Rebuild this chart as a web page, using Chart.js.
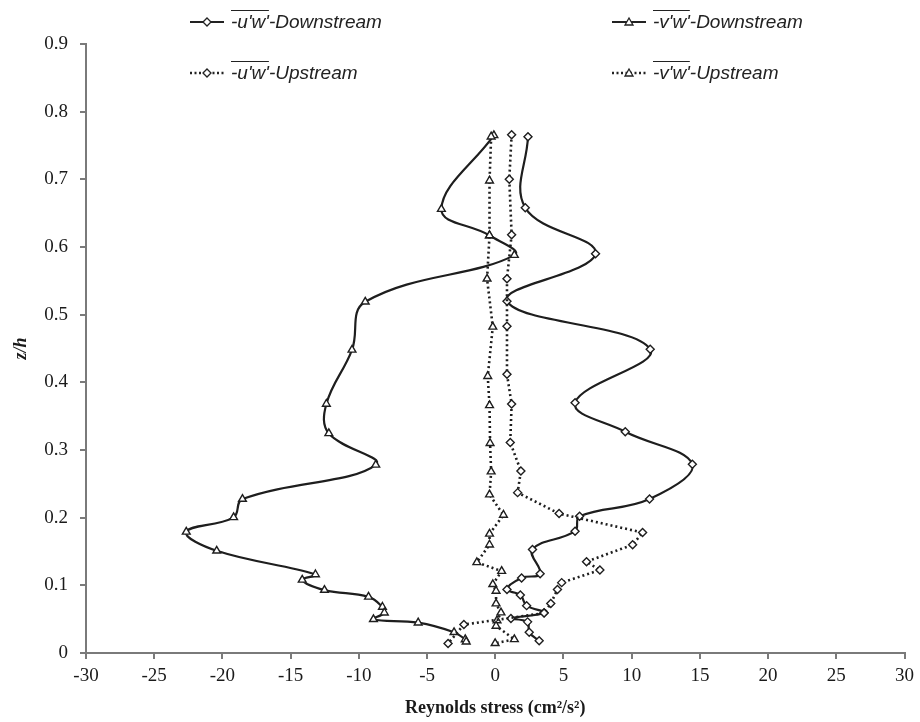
<!DOCTYPE html>
<html>
<head>
<meta charset="utf-8">
<script src="https://cdn.jsdelivr.net/npm/chart.js@4.4.1/dist/chart.umd.min.js"></script>
<style>
    html, body { margin: 0; padding: 0; background: #fff; }
    #wrap { position: relative; width: 920px; height: 722px; }
    #chart { position: absolute; left: 0; top: 0; }
    .leg { position: absolute; display: flex; align-items: center; height: 22px;
        font-family: "Liberation Sans Narrow", "Liberation Sans", Arial, sans-serif;
        font-style: italic; font-size: 19px; color: #222; white-space: nowrap; }
    .leg svg { margin-right: 7px; }
    .ov { text-decoration: overline; }
</style>
</head>
<body>
<div id="wrap">
    <canvas id="chart" width="920" height="722"></canvas>
    <div class="leg" style="left:190px; top:11px;">
        <svg width="34" height="12"><line x1="0" y1="6" x2="34" y2="6" stroke="#222" stroke-width="2"/><polygon points="17,2 21,6 17,10 13,6" fill="#fff" stroke="#222" stroke-width="1.3"/></svg>
        <span><span class="ov">-u'w'</span>-Downstream</span>
    </div>
    <div class="leg" style="left:612px; top:11px;">
        <svg width="34" height="12"><line x1="0" y1="6" x2="34" y2="6" stroke="#222" stroke-width="2"/><polygon points="17,2 21,9 13,9" fill="#fff" stroke="#222" stroke-width="1.3"/></svg>
        <span><span class="ov">-v'w'</span>-Downstream</span>
    </div>
    <div class="leg" style="left:190px; top:62px;">
        <svg width="34" height="12"><line x1="0" y1="6" x2="34" y2="6" stroke="#222" stroke-width="2.5" stroke-dasharray="2,2.5"/><polygon points="17,2 21,6 17,10 13,6" fill="#fff" stroke="#222" stroke-width="1.3"/></svg>
        <span><span class="ov">-u'w'</span>-Upstream</span>
    </div>
    <div class="leg" style="left:612px; top:62px;">
        <svg width="34" height="12"><line x1="0" y1="6" x2="34" y2="6" stroke="#222" stroke-width="2.5" stroke-dasharray="2,2.5"/><polygon points="17,2 21,9 13,9" fill="#fff" stroke="#222" stroke-width="1.3"/></svg>
        <span><span class="ov">-v'w'</span>-Upstream</span>
    </div>
</div>
<script>
// Reynolds stress (cm2/s2) against relative depth z/h
const uwDownX = [2.4, 2.2, 7.35, 0.86, 11.36, 5.85, 9.53, 14.45, 11.31, 6.18, 5.85, 2.73, 3.29, 1.93, 0.86, 1.84, 2.3, 3.58, 1.15, 2.37, 2.49, 3.22];
const uwDownZ = [0.763, 0.658, 0.590, 0.520, 0.449, 0.370, 0.327, 0.279, 0.2275, 0.202, 0.180, 0.153, 0.117, 0.111, 0.094, 0.0857, 0.070, 0.0596, 0.051, 0.046, 0.0305, 0.018];

const vwDownX = [-0.1, -3.95, -0.42, 1.4, -9.53, -10.5, -12.38, -12.2, -8.76, -18.53, -19.18, -22.65, -20.42, -13.18, -14.15, -12.52, -9.29, -8.27, -8.13, -8.93, -5.65, -3.02, -2.2, -2.13];
const vwDownZ = [0.765, 0.656, 0.617, 0.588, 0.519, 0.448, 0.368, 0.3245, 0.278, 0.2275, 0.2004, 0.179, 0.151, 0.116, 0.108, 0.093, 0.083, 0.068, 0.0595, 0.0498, 0.0448, 0.0306, 0.020, 0.0167];

const uwUpX = [1.2, 1.03, 1.2, 0.86, 0.86, 0.86, 1.2, 1.1, 1.88, 1.64, 4.68, 10.8, 10.07, 6.69, 7.67, 4.87, 4.56, 4.07, 3.58, -2.3, -3.46];
const uwUpZ = [0.766, 0.70, 0.618, 0.553, 0.483, 0.412, 0.368, 0.311, 0.269, 0.237, 0.206, 0.178, 0.160, 0.135, 0.1226, 0.104, 0.094, 0.073, 0.059, 0.042, 0.014];

const vwUpX = [-0.3, -0.42, -0.42, -0.6, -0.18, -0.55, -0.42, -0.38, -0.3, -0.42, 0.6, -0.42, -0.42, -1.35, 0.47, -0.18, 0.06, 0.06, 0.42, 0.13, 0.06, 1.4, -0.01];
const vwUpZ = [0.763, 0.698, 0.617, 0.553, 0.482, 0.409, 0.366, 0.310, 0.268, 0.234, 0.204, 0.176, 0.160, 0.134, 0.121, 0.1015, 0.0916, 0.073, 0.0596, 0.048, 0.040, 0.0202, 0.0143];

const xTicks = [-30, -25, -20, -15, -10, -5, 0, 5, 10, 15, 20, 25, 30];
const yTicks = [0, 0.1, 0.2, 0.3, 0.4, 0.5, 0.6, 0.7, 0.8, 0.9];

function toPoints(xs, zs) {
    return xs.map((x, i) => ({ x: x, y: zs[i] }));
}

function makeSeries(label, xs, zs, marker, dotted) {
    return {
        label: label,
        data: toPoints(xs, zs),
        showLine: true,
        borderColor: '#1e1e1e',
        borderWidth: dotted ? 2.6 : 2.2,
        borderDash: dotted ? [2, 3] : [],
        tension: dotted ? 0 : 0.4,
        pointStyle: marker,
        pointRadius: marker === 'triangle' ? 4.5 : 4,
        pointBorderWidth: 1.4,
        pointBorderColor: '#1e1e1e',
        pointBackgroundColor: '#ffffff'
    };
}

const serif = '"Liberation Serif", "Times New Roman", serif';
const tickFont = { family: serif, size: 19 };
const axisGray = '#7a7a7a';

new Chart(document.getElementById('chart'), {
    type: 'scatter',
    data: {
        datasets: [
            makeSeries("-u'w'-Upstream", uwUpX, uwUpZ, 'rectRot', true),
            makeSeries("-v'w'-Upstream", vwUpX, vwUpZ, 'triangle', true),
            makeSeries("-u'w'-Downstream", uwDownX, uwDownZ, 'rectRot', false),
            makeSeries("-v'w'-Downstream", vwDownX, vwDownZ, 'triangle', false)
        ]
    },
    options: {
        responsive: false,
        animation: false,
        layout: { padding: { left: 0, right: 11, top: 44, bottom: 0 } },
        plugins: { legend: { display: false }, tooltip: { enabled: false } },
        scales: {
            x: {
                type: 'linear',
                min: -30, max: 30,
                afterBuildTicks: (s) => { s.ticks = xTicks.map(v => ({ value: v })); },
                afterFit: (s) => { s.height = 69; },
                grid: { drawOnChartArea: false, drawTicks: true, tickLength: 6, color: axisGray, lineWidth: 2 },
                border: { color: axisGray, width: 2 },
                ticks: { font: tickFont, color: '#1a1a1a', padding: 6, maxRotation: 0 },
                title: {
                    display: true,
                    text: 'Reynolds stress (cm²/s²)',
                    font: { family: serif, size: 18, weight: 'bold' },
                    color: '#1a1a1a',
                    padding: { top: 0, bottom: 3 }
                }
            },
            y: {
                type: 'linear',
                min: 0, max: 0.9,
                afterBuildTicks: (s) => { s.ticks = yTicks.map(v => ({ value: v })); },
                afterFit: (s) => { s.width = 86; },
                grid: { drawOnChartArea: false, drawTicks: true, tickLength: 6, color: axisGray, lineWidth: 2 },
                border: { color: axisGray, width: 2 },
                ticks: { font: tickFont, color: '#1a1a1a', padding: 12, callback: (v) => String(v) },
                title: {
                    display: true,
                    text: 'z/h',
                    font: { family: serif, size: 18, weight: 'bold', style: 'italic' },
                    color: '#1a1a1a',
                    padding: { top: 11, bottom: 0 }
                }
            }
        }
    }
});
</script>
</body>
</html>
